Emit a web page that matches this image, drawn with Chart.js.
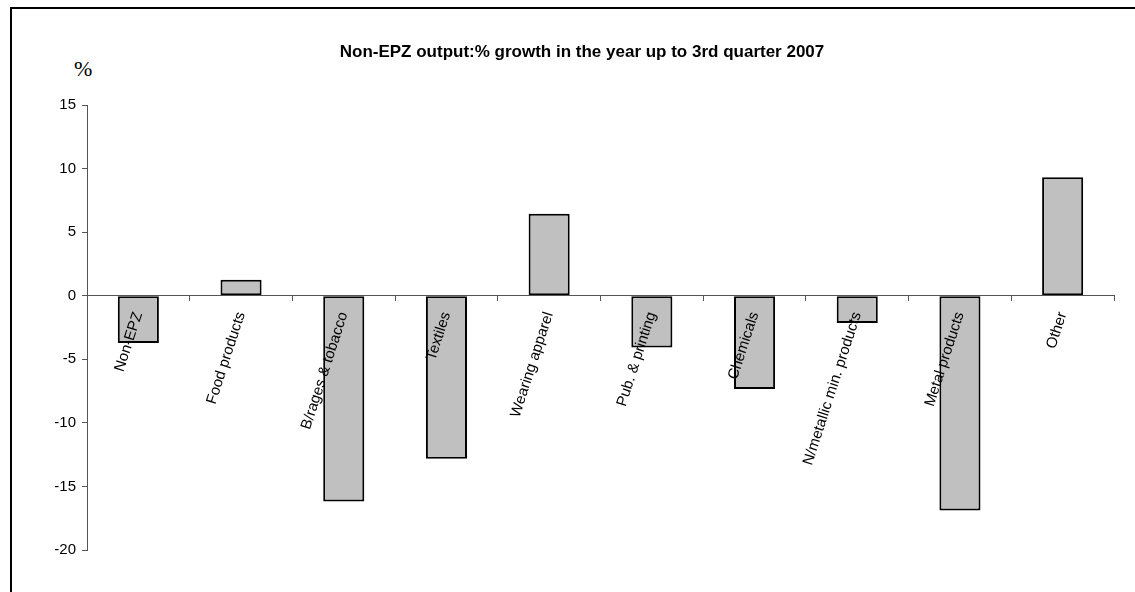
<!DOCTYPE html>
<html>
<head>
<meta charset="utf-8">
<title>Non-EPZ output</title>
<script src="https://cdn.jsdelivr.net/npm/chart.js@4.4.1/dist/chart.umd.min.js"></script>
<style>
  html, body { margin: 0; padding: 0; background: #fff; overflow: hidden; }
  #wrap { position: relative; width: 1135px; height: 592px; }
  #frame { position: absolute; left: 10px; top: 7px; width: 2000px; height: 2000px;
    border-left: 2px solid #000; border-top: 2px solid #000; }
  #unit { position: absolute; left: 74px; top: 58px; font: 22px/22px 'Liberation Serif', 'Times New Roman', serif; color: #000; }
  canvas { position: absolute; left: 0; top: 0; }
</style>
</head>
<body>
<div id="wrap">
  <div id="frame"></div>
  <div id="unit">%</div>
  <canvas id="chart" width="1135" height="592"></canvas>
</div>
<script>
// data
const categories = [
  'Non-EPZ',
  'Food products',
  'B/rages & tobacco',
  'Textiles',
  'Wearing apparel',
  'Pub. & printing',
  'Chemicals',
  'N/metallic min. products',
  'Metal products',
  'Other',
];
const growth = [-3.72, 1.26, -16.18, -12.83, 6.45, -4.07, -7.34, -2.15, -16.9, 9.31];
const yTicks = [-20, -15, -10, -5, 0, 5, 10, 15];

const font = "'Liberation Sans', Arial, sans-serif";
const ctx = document.getElementById('chart').getContext('2d');

new Chart(ctx, {
  type: 'bar',
  data: {
    labels: categories,
    datasets: [
      {
        label: '% growth',
        data: growth,
        backgroundColor: '#c0c0c0',
        borderColor: '#000000',
        borderWidth: 2,
        borderSkipped: false,
        barPercentage: 0.4,
        categoryPercentage: 1,
      },
    ],
  },
  options: {
    responsive: false,
    animation: false,
    layout: { padding: { left: 50, right: 21, top: 0, bottom: 42 } },
    plugins: {
      legend: { display: false },
      tooltip: { enabled: false },
      title: {
        display: true,
        text: 'Non-EPZ output:% growth in the year up to 3rd quarter 2007',
        color: '#000',
        font: { family: font, size: 17, weight: 'bold' },
        padding: { top: 42, bottom: 42.6 },
      },
    },
    scales: {
      x: {
        position: { y: 0 },
        grid: { offset: true, drawOnChartArea: false, drawTicks: true, tickLength: 5, color: '#555' },
        border: { color: '#555', width: 1, z: 1 },
        ticks: {
          z: 1, // labels sit on top of the bars
          color: '#000',
          font: { family: font, size: 15 },
          autoSkip: false,
          minRotation: 72,
          maxRotation: 72,
          padding: 9,
        },
      },
      y: {
        min: -20,
        max: 15,
        afterFit: (s) => { s.width = 37; },
        afterBuildTicks: (s) => { s.ticks = yTicks.map((v) => ({ value: v })); },
        grid: { drawOnChartArea: false, drawTicks: true, tickLength: 5, color: '#555' },
        border: { color: '#555', width: 1 },
        ticks: {
          color: '#000',
          font: { family: font, size: 15 },
          padding: 6,
        },
      },
    },
  },
});
</script>
</body>
</html>
